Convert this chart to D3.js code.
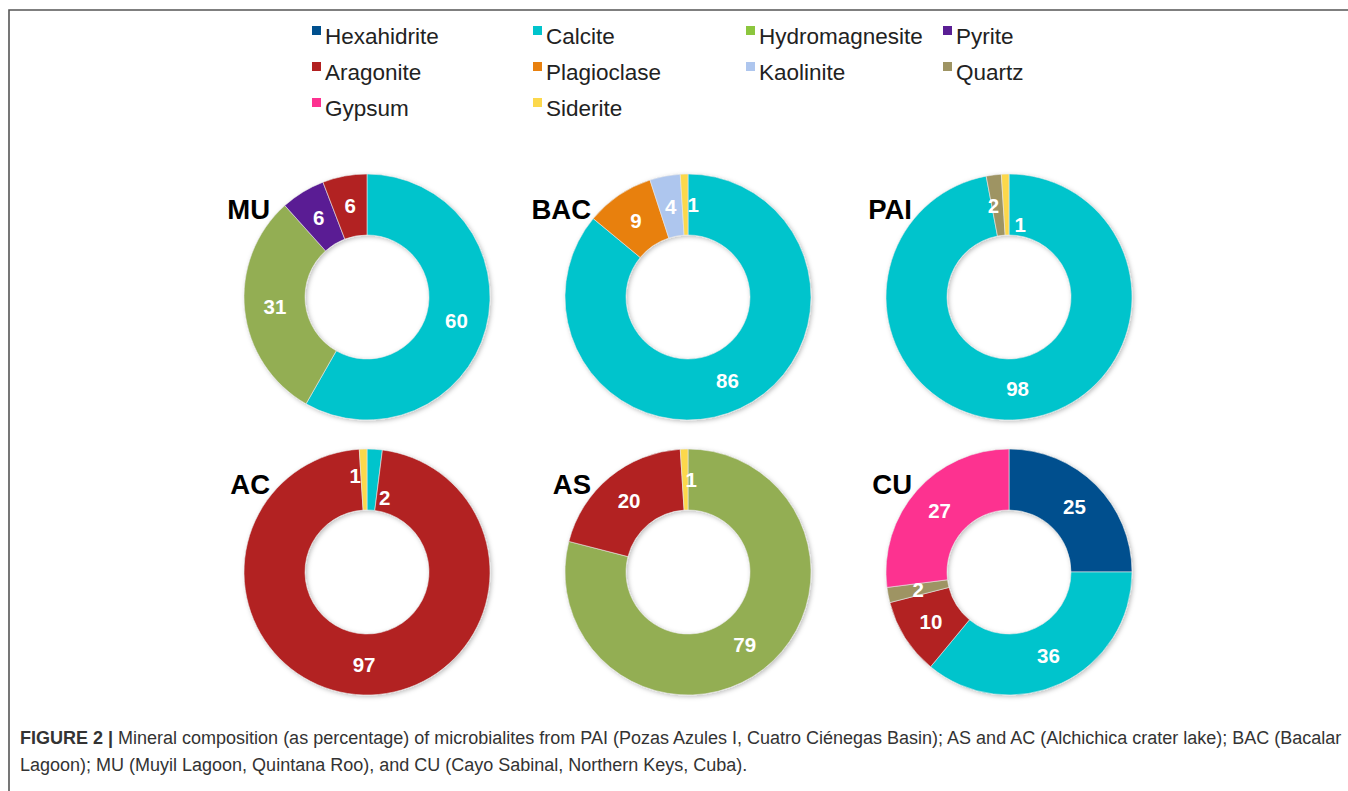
<!DOCTYPE html>
<html>
<head>
<meta charset="utf-8">
<script src="https://cdn.jsdelivr.net/npm/d3@7"></script>
<style>
  body { margin: 0; background: #fff; }
  svg { display: block; font-family: "Liberation Sans", Arial, sans-serif; }
</style>
</head>
<body>
<svg width="1348" height="791"></svg>
<script>
// minerals, in legend / slice order
const minerals = ['Hexahidrite','Calcite','Hydromagnesite','Pyrite','Aragonite',
                  'Plagioclase','Kaolinite','Quartz','Gypsum','Siderite'];
const colors = ['#00508e','#00c4cc','#93ae52','#5a1e94','#b22020',
                '#e8800e','#aec6ee','#9e9463','#fd3190','#fcd84c'];
const swatchColors = ['#00508e','#00c4cc','#8cc63e','#5a1e94','#b22020',
                      '#e8800e','#aec6ee','#9e9463','#fd3190','#fcd84c'];

const sites = ['MU','BAC','PAI','AC','AS','CU'];
// percentages per site, same order as minerals
const MU  = [0, 60, 31, 6, 6, 0, 0, 0, 0, 0];
const BAC = [0, 86, 0, 0, 0, 9, 4, 0, 0, 1];
const PAI = [0, 98, 0, 0, 0, 0, 0, 2, 0, 1];
const AC  = [0, 2, 0, 0, 97, 0, 0, 0, 0, 1];
const AS  = [0, 0, 79, 0, 20, 0, 0, 0, 0, 1];
const CU  = [25, 36, 0, 0, 10, 0, 0, 2, 27, 0];
const siteValues = {MU, BAC, PAI, AC, AS, CU};

const caption1 = 'Mineral composition (as percentage) of microbialites from PAI (Pozas Azules I, Cuatro Ciénegas Basin); AS and AC (Alchichica crater lake); BAC (Bacalar';
const caption2 = 'Lagoon); MU (Muyil Lagoon, Quintana Roo), and CU (Cayo Sabinal, Northern Keys, Cuba).';

// small labels moved off the thin slices
const nudge = {
  'BAC-Siderite': [8, 0],
  'PAI-Quartz': [-4, 0],
  'PAI-Siderite': [14, 20],
  'AC-Siderite': [-9, -4],
  'AC-Calcite': [12, 18],
  'AS-Siderite': [6, 0]
};

const svg = d3.select('svg');

// frame
svg.append('path')
   .attr('d', 'M9,791 V10 H1348')
   .attr('fill', 'none').attr('stroke', '#555').attr('stroke-width', 1.6);

// legend
const legCols = [312, 533, 746, 943];
const legRowY = d3.scalePoint().domain([0, 1, 2]).range([36, 108]);
const leg = svg.append('g').selectAll('g')
   .data(minerals)
   .join('g')
   .attr('transform', (d, i) => `translate(${legCols[i % 4]},${legRowY(Math.floor(i / 4))})`);
leg.append('rect').attr('x', 0).attr('y', -10).attr('width', 9).attr('height', 9)
   .attr('fill', (d, i) => swatchColors[i]);
leg.append('text').attr('x', 13).attr('y', 0).attr('dy', '0.35em')
   .attr('font-size', 22.5).attr('fill', '#222')
   .text(d => d);

// donuts
const cx = d3.scalePoint().domain([0, 1, 2]).range([367, 1009]);
const cy = d3.scalePoint().domain([0, 1]).range([297, 572]);
const pie = d3.pie().sort(null).value(d => d.v);
const arc = d3.arc().innerRadius(62).outerRadius(123);

const defs = svg.append('defs');
defs.append('filter').attr('id', 'sh').attr('x', '-20%').attr('y', '-20%')
    .attr('width', '140%').attr('height', '140%')
  .append('feDropShadow').attr('dx', 1.5).attr('dy', 1.5)
    .attr('stdDeviation', 2).attr('flood-color', '#000').attr('flood-opacity', 0.25);

sites.forEach((s, k) => {
  const vals = siteValues[s]
    .map((v, i) => ({v, m: minerals[i], c: colors[i]}))
    .filter(d => d.v > 0);
  const g = svg.append('g')
    .attr('transform', `translate(${cx(k % 3)},${cy(Math.floor(k / 3))})`);
  const arcs = pie(vals);
  g.append('g').attr('filter', 'url(#sh)')
   .selectAll('path').data(arcs).join('path')
   .attr('d', arc).attr('fill', d => d.data.c)
   .attr('stroke', '#e8e8e8').attr('stroke-width', 0.6);
  g.selectAll('text.val').data(arcs).join('text')
   .attr('class', 'val')
   .attr('transform', d => {
     const [x, y] = arc.centroid(d);
     const n = nudge[s + '-' + d.data.m] || [0, 0];
     return `translate(${x + n[0]},${y + n[1]})`;
   })
   .attr('text-anchor', 'middle').attr('dy', '0.36em')
   .attr('font-size', 20.5).attr('font-weight', 'bold').attr('fill', '#fff')
   .text(d => d.data.v);
  g.append('text')
   .attr('x', -97).attr('y', -78)
   .attr('text-anchor', 'end')
   .attr('font-size', 27.5).attr('font-weight', 'bold').attr('fill', '#000')
   .text(s);
});

// caption
const cap = svg.append('g').attr('font-size', 18).attr('fill', '#333');
const t1 = cap.append('text').attr('x', 20).attr('y', 744);
t1.append('tspan').attr('font-weight', 'bold').text('FIGURE 2 | ');
t1.append('tspan').text(caption1);
cap.append('text').attr('x', 20).attr('y', 771).text(caption2);
</script>
</body>
</html>
